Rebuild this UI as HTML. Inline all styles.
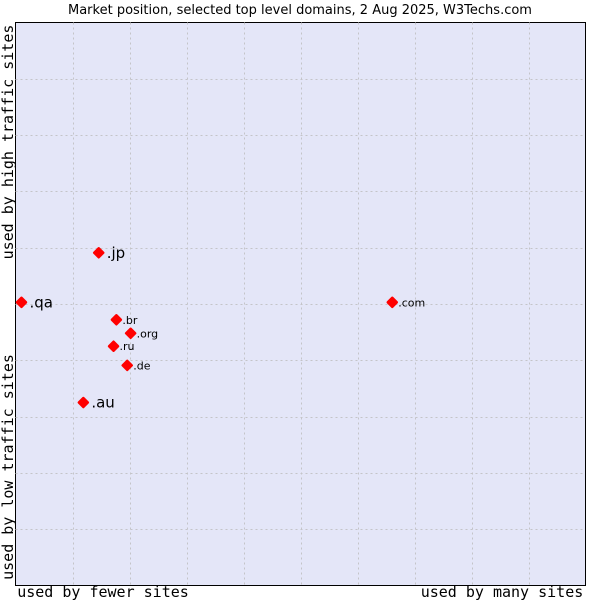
<!DOCTYPE html>
<html><head><meta charset="utf-8"><style>
body{margin:0;background:#fff;}
svg{display:block;font-family:"DejaVu Sans","Liberation Sans",sans-serif;}
</style></head><body>
<svg id="chart" width="600" height="600">
<text x="300" y="14" text-anchor="middle" font-size="13" fill="#000">Market position, selected top level domains, 2 Aug 2025, W3Techs.com</text>
<rect x="15.5" y="22.5" width="570" height="563" fill="#e4e6f8" stroke="#000" stroke-width="1"/>
<g id="grid"></g>
<g id="points"></g>
<text x="103" y="597" text-anchor="middle" font-family="DejaVu Sans Mono,Liberation Mono,monospace" font-size="15">used by fewer sites</text>
<text x="502" y="597" text-anchor="middle" font-family="DejaVu Sans Mono,Liberation Mono,monospace" font-size="15">used by many sites</text>
<text transform="translate(13,142) rotate(-90)" text-anchor="middle" font-family="DejaVu Sans Mono,Liberation Mono,monospace" font-size="15">used by high traffic sites</text>
<text transform="translate(13,467) rotate(-90)" text-anchor="middle" font-family="DejaVu Sans Mono,Liberation Mono,monospace" font-size="15">used by low traffic sites</text>
</svg>
<script>
const labels=[".jp",".qa",".com",".br",".org",".ru",".de",".au"];
const xValues=[14.6,1.05,66.1,17.7,20.2,17.2,19.6,11.9];
const yValues=[59.1,50.3,50.3,47.2,44.8,42.5,39.1,32.5];
const labelSizes=[15,15,11,11,11,11,11,15];
const X0=15.5,X1=585.5,Y0=585.5,Y1=22.5;
const xs=v=>X0+(X1-X0)*v/100;
const ys=v=>Y0-(Y0-Y1)*v/100;
const NS="http://www.w3.org/2000/svg";
const grid=document.getElementById('grid');
for(let i=1;i<10;i++){
  const l=document.createElementNS(NS,'line');
  
  
  const x=Math.round(xs(i*10))+0.5;
  l.setAttribute('x1',x);l.setAttribute('x2',x);l.setAttribute('y1',Y1);l.setAttribute('y2',Y0);
  l.setAttribute('stroke','#c4c4c8');l.setAttribute('stroke-dasharray','2,3');
  grid.appendChild(l);
  const h=document.createElementNS(NS,'line');
  
  
  const y=Math.round(ys(i*10))+0.5;
  h.setAttribute('x1',X0);h.setAttribute('x2',X1);h.setAttribute('y1',y);h.setAttribute('y2',y);
  h.setAttribute('stroke','#c4c4c8');h.setAttribute('stroke-dasharray','2,3');
  grid.appendChild(h);
}
const pts=document.getElementById('points');
labels.forEach((lb,i)=>{
  const x=xs(xValues[i]),y=ys(yValues[i]);
  const d=document.createElementNS(NS,'path');
  
  
  d.setAttribute('d',`M${x-4.5},${y}L${x},${y-4.5}L${x+4.5},${y}L${x},${y+4.5}Z`);
  d.setAttribute('fill','#ff0000');d.setAttribute('stroke','#ff0000');d.setAttribute('stroke-linejoin','round');d.setAttribute('stroke-width','2.5');
  pts.appendChild(d);
  const t=document.createElementNS(NS,'text');
  
  
  t.setAttribute('x',x+(labelSizes[i]>12?8:6));
  t.setAttribute('y',y+(labelSizes[i]>12?5:4));
  t.setAttribute('font-size',labelSizes[i]);
  t.textContent=lb;
  pts.appendChild(t);
});
</script>
</body></html>
